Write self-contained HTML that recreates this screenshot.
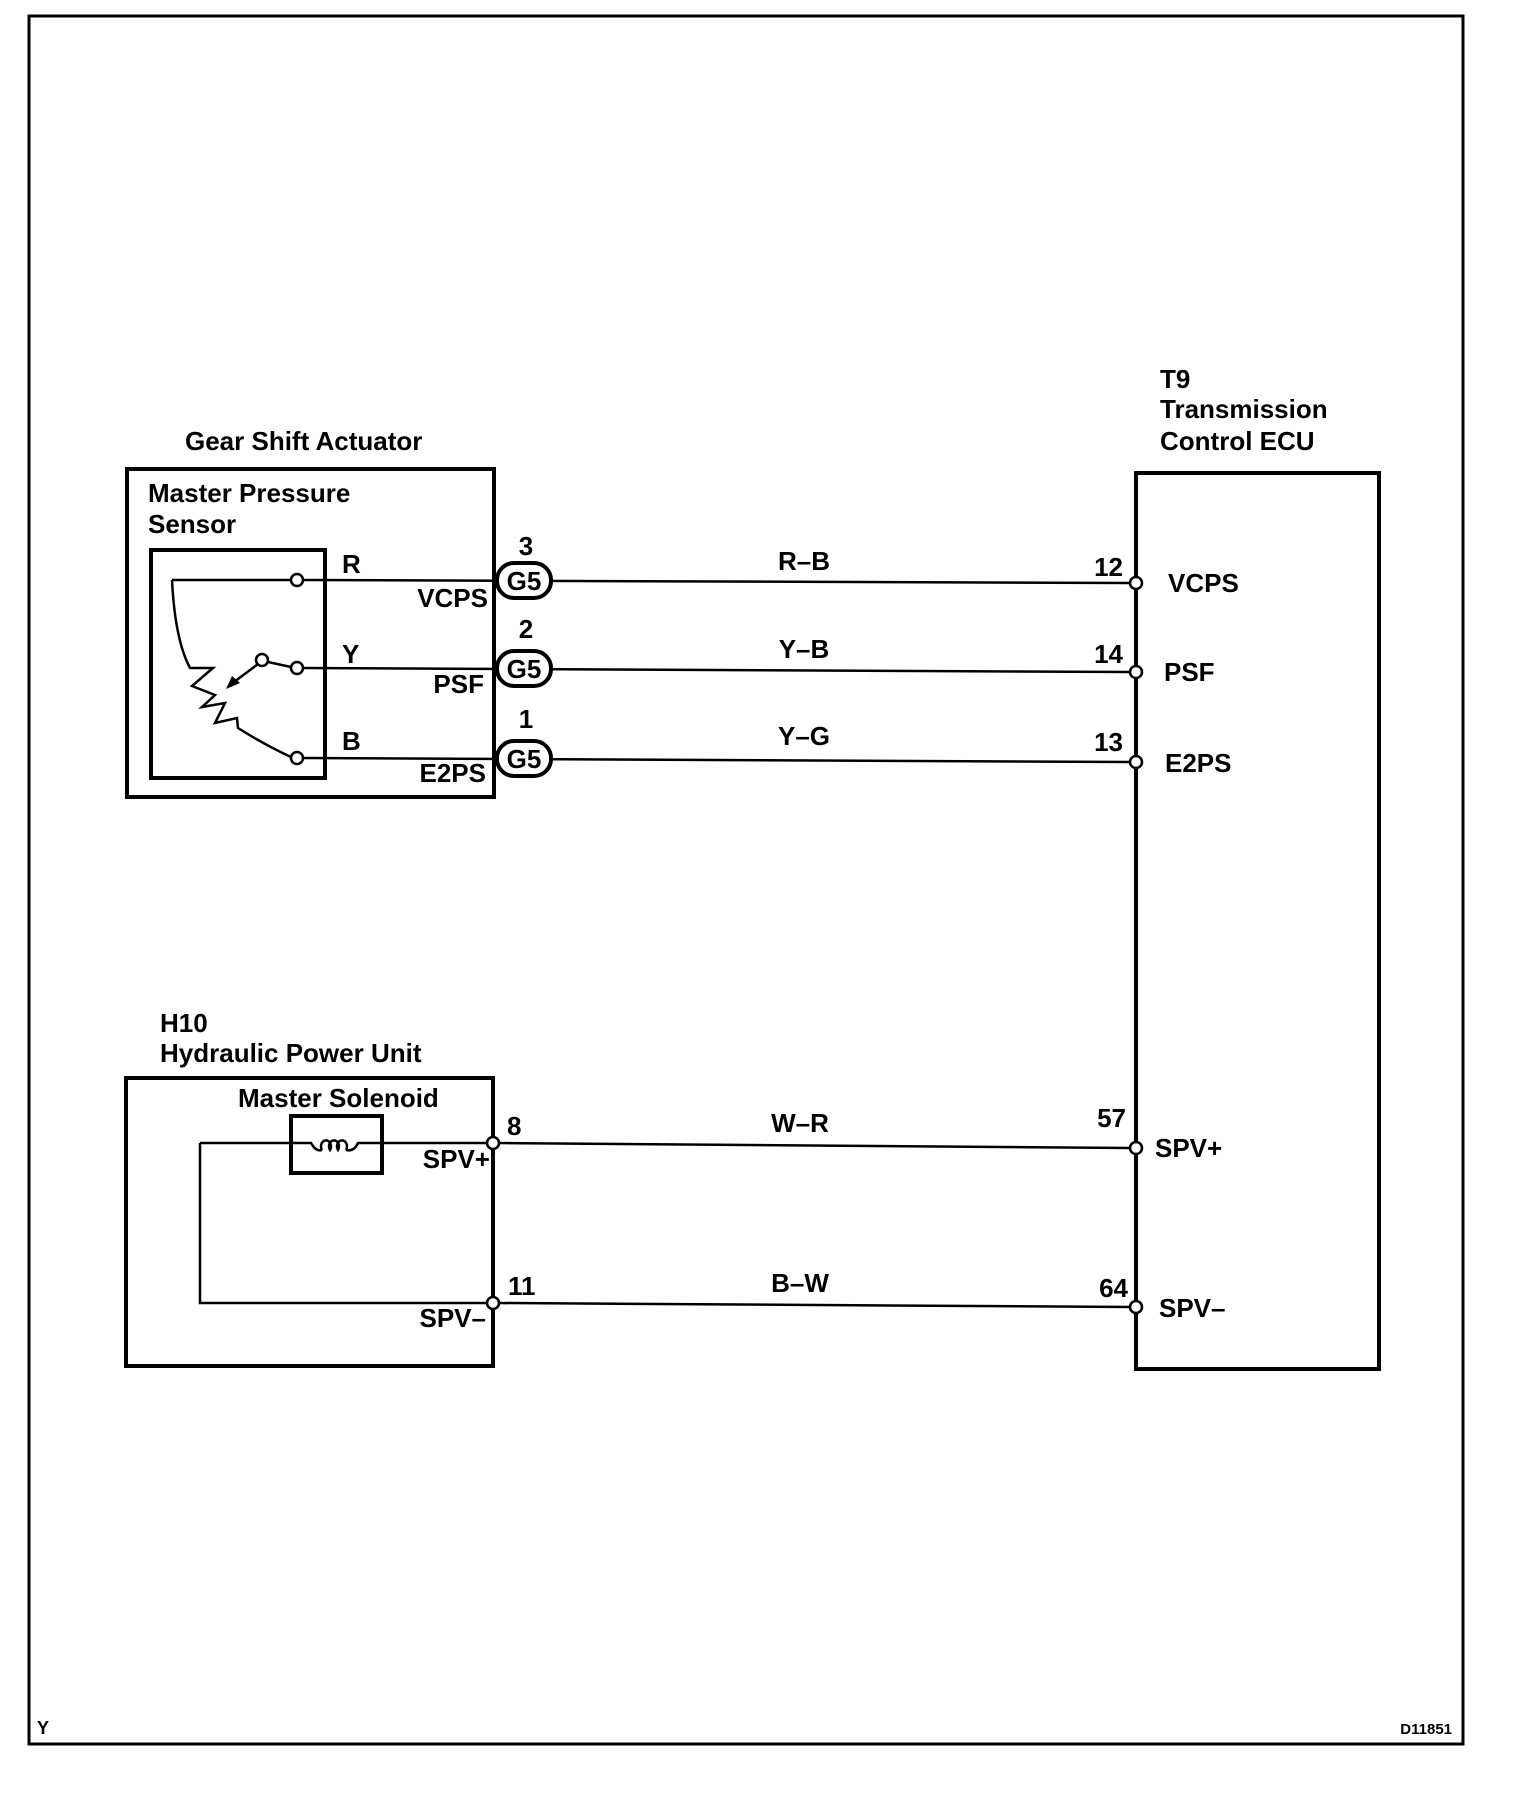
<!DOCTYPE html>
<html><head><meta charset="utf-8"><style>
html,body{margin:0;padding:0;background:#fff;}
svg{display:block;}
text{font-family:"Liberation Sans",Arial,sans-serif;font-weight:bold;font-size:26px;fill:#000;}
</style></head><body>
<svg width="1520" height="1816" viewBox="0 0 1520 1816" xmlns="http://www.w3.org/2000/svg">
<rect x="29" y="16" width="1434" height="1728" fill="none" stroke="#000" stroke-width="3"/>

<text x="185" y="450">Gear Shift Actuator</text>
<rect x="127" y="469" width="367" height="328" fill="none" stroke="#000" stroke-width="4"/>
<text x="148" y="502">Master Pressure</text>
<text x="148" y="533">Sensor</text>
<rect x="151" y="550" width="174" height="228" fill="none" stroke="#000" stroke-width="4"/>

<g fill="none" stroke="#000" stroke-width="2.5">
<path d="M172 580 L291 580"/>
<path d="M172 580 Q175 640 190 668 L213 668 L192 686 L215 695 L202 707 L225 703 L215 723 L237 718 L238 728 Q265 745 291 757"/>
<line x1="268" y1="662" x2="291" y2="667"/>
<line x1="258" y1="664" x2="234" y2="682"/>
</g>
<polygon points="226,689 232,676 240,683" fill="#000"/>
<g fill="#fff" stroke="#000" stroke-width="2.5">
<circle cx="297" cy="580" r="6"/>
<circle cx="297" cy="668" r="6"/>
<circle cx="297" cy="758" r="6"/>
<circle cx="262" cy="660" r="6"/>
</g>
<text x="342" y="573">R</text>
<text x="342" y="663">Y</text>
<text x="342" y="750">B</text>
<text x="488" y="607" text-anchor="end">VCPS</text>
<text x="484" y="693" text-anchor="end">PSF</text>
<text x="486" y="782" text-anchor="end">E2PS</text>

<g stroke="#000" stroke-width="2.5">
<line x1="303" y1="580" x2="1129" y2="583"/>
<line x1="303" y1="668" x2="1129" y2="672"/>
<line x1="303" y1="758" x2="1129" y2="762"/>
</g>
<g fill="#fff" stroke="#000" stroke-width="4">
<rect x="497" y="563" width="54" height="35" rx="17"/>
<rect x="497" y="651" width="54" height="35" rx="17"/>
<rect x="497" y="741" width="54" height="35" rx="17"/>
</g>
<text x="524" y="590" text-anchor="middle">G5</text>
<text x="524" y="678" text-anchor="middle">G5</text>
<text x="524" y="768" text-anchor="middle">G5</text>
<text x="526" y="555" text-anchor="middle">3</text>
<text x="526" y="638" text-anchor="middle">2</text>
<text x="526" y="728" text-anchor="middle">1</text>

<text x="804" y="570" text-anchor="middle">R–B</text>
<text x="804" y="658" text-anchor="middle">Y–B</text>
<text x="804" y="745" text-anchor="middle">Y–G</text>
<text x="1123" y="576" text-anchor="end">12</text>
<text x="1123" y="663" text-anchor="end">14</text>
<text x="1123" y="751" text-anchor="end">13</text>

<text x="1160" y="388">T9</text>
<text x="1160" y="418">Transmission</text>
<text x="1160" y="450">Control ECU</text>
<rect x="1136" y="473" width="243" height="896" fill="none" stroke="#000" stroke-width="4"/>
<g fill="#fff" stroke="#000" stroke-width="2.5">
<circle cx="1136" cy="583" r="6"/>
<circle cx="1136" cy="672" r="6"/>
<circle cx="1136" cy="762" r="6"/>
<circle cx="1136" cy="1148" r="6"/>
<circle cx="1136" cy="1307" r="6"/>
</g>
<text x="1168" y="592">VCPS</text>
<text x="1164" y="681">PSF</text>
<text x="1165" y="772">E2PS</text>
<text x="1155" y="1157">SPV+</text>
<text x="1159" y="1317">SPV–</text>

<text x="160" y="1032">H10</text>
<text x="160" y="1062">Hydraulic Power Unit</text>
<rect x="126" y="1078" width="367" height="288" fill="none" stroke="#000" stroke-width="4"/>
<text x="238" y="1107">Master Solenoid</text>
<rect x="291" y="1116" width="91" height="57" fill="none" stroke="#000" stroke-width="4"/>
<g fill="none" stroke="#000" stroke-width="2.5">
<path d="M200 1143 L311 1143 Q316 1152 322 1150"/>
<path d="M322 1150 a5 6 0 1 1 8 0 a5 6 0 1 1 8 0 a5 6 0 1 1 8 0"/>
<path d="M346 1150 Q354 1152 358 1143 L487 1143"/>
<path d="M200 1143 L200 1303 L487 1303"/>
<line x1="499" y1="1143" x2="1130" y2="1148"/>
<line x1="499" y1="1303" x2="1130" y2="1307"/>
</g>
<g fill="#fff" stroke="#000" stroke-width="2.5">
<circle cx="493" cy="1143" r="6"/>
<circle cx="493" cy="1303" r="6"/>
</g>
<text x="490" y="1168" text-anchor="end">SPV+</text>
<text x="486" y="1327" text-anchor="end">SPV–</text>
<text x="507" y="1135">8</text>
<text x="508" y="1295">11</text>
<text x="800" y="1132" text-anchor="middle">W–R</text>
<text x="800" y="1292" text-anchor="middle">B–W</text>
<text x="1126" y="1127" text-anchor="end">57</text>
<text x="1128" y="1297" text-anchor="end">64</text>

<text x="37" y="1734" style="font-size:18px">Y</text>
<text x="1452" y="1734" text-anchor="end" style="font-size:15px">D11851</text>
</svg>
</body></html>
